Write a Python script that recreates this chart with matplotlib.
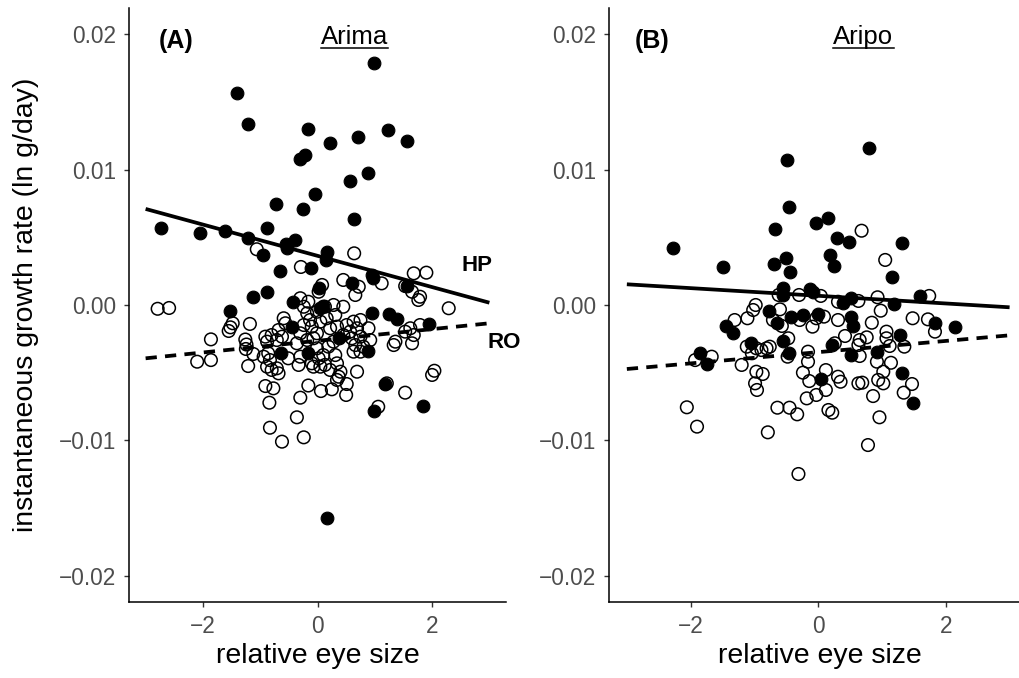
#Growth rate vs relative eye size, Arima and Aripo drainages
import numpy as np
import matplotlib
matplotlib.use("Agg")
import matplotlib.pyplot as plt
from matplotlib.ticker import FuncFormatter

plt.rcParams['font.family'] = ['Liberation Sans', 'DejaVu Sans']

#Arima, HP fish (filled)
arima_hp_x = [0.99, -1.41, -1.21, -0.16, 1.23, 0.71, 0.22, 1.57, -0.21, -0.30, 0.88, 0.56, -0.05, -0.72,
              -0.25, 0.63, -2.74, -2.05, -1.61, -0.88, -1.21, -0.55, -0.39, -0.53, -0.95, 0.17, 0.15, -0.65,
              -0.11, 0.95, 0.96, 0.61, 1.56, 0.02, -1.13, -0.88, -0.42, 0.05, 0.09, -1.52, 0.95, 1.24, 1.39,
              1.95, -0.45, 0.37, -0.64, -0.17, 0.89, 1.17, 0.98, 1.85, 0.17]
arima_hp_y = [0.01786, 0.01569, 0.01338, 0.01299, 0.01293, 0.01244, 0.01195, 0.01210, 0.01109, 0.01077,
              0.00973, 0.00916, 0.00820, 0.00746, 0.00710, 0.00636, 0.00569, 0.00530, 0.00549, 0.00567,
              0.00493, 0.00451, 0.00480, 0.00419, 0.00370, 0.00394, 0.00333, 0.00254, 0.00276, 0.00222,
              0.00197, 0.00165, 0.00140, 0.00123, 0.00061, 0.00098, 0.00024, -0.00024, -0.00007, -0.00042,
              -0.00061, -0.00069, -0.00103, -0.00140, -0.00160, -0.00246, -0.00353, -0.00353, -0.00340,
              -0.00584, -0.00781, -0.00746, -0.01572]

#Arima, RO fish (open)
arima_ro_x = [-2.79, -2.59, -1.06, -0.29, 0.64, -1.86, -2.10, -1.86, -1.48, -1.52, -1.55, -1.18, -1.26, -1.24,
              -1.25, -1.12, -1.21, -0.91, -0.88, -0.80, -0.68, -0.59, -0.56, -0.71, -0.62, -0.30, -0.16, -0.24,
              -0.18, -0.13, -0.10, -0.24, -0.30, -0.18, -0.07, -0.01, -0.36, -0.88, -0.80, -0.71, -0.68, -0.83,
              -0.94, -0.86, -0.51, -0.33, -0.30, -0.10, 0.02, -0.91, -0.77, -0.84, -0.16, -0.30, -0.36, -0.83,
              -0.62, -0.24, 0.06, 0.25, 0.50, 0.51, 0.34, 1.53, 1.06, 1.21, 2.00, 2.04, 0.45, 0.08, 0.02, 0.72,
              0.66, 1.12, 1.68, 1.90, 1.53, 1.65, 1.79, 1.76, 2.29, -0.01, 0.13, 0.28, 0.45, 0.31, 0.16, 0.05,
              0.22, 0.34, 0.51, 0.63, 0.75, 0.69, 0.57, 0.45, 0.60, 0.75, 0.89, 0.92, 0.80, 0.66, 0.63, 0.75,
              0.28, 0.19, 0.10, 0.31, -0.01, -0.07, 0.05, 0.13, 0.22, 0.34, 0.40, 0.37, 0.69, 1.36, 1.33, 1.53,
              1.62, 1.79, 1.68, 1.65]
arima_ro_y = [-0.00028, -0.00022, 0.00412, 0.00281, 0.00382, -0.00254, -0.00419, -0.00407, -0.00135, -0.00165,
              -0.00192, -0.00140, -0.00255, -0.00292, -0.00325, -0.00362, -0.00451, -0.00234, -0.00271, -0.00222,
              -0.00185, -0.00098, -0.00135, -0.00259, -0.00234, 0.00050, 0.00024, -0.00013, -0.00061, -0.00111,
              -0.00160, -0.00148, -0.00209, -0.00259, -0.00246, -0.00209, -0.00283, -0.00456, -0.00480, -0.00468,
              -0.00505, -0.00407, -0.00382, -0.00357, -0.00394, -0.00443, -0.00382, -0.00431, -0.00394, -0.00599,
              -0.00616, -0.00722, -0.00595, -0.00685, -0.00830, -0.00907, -0.01010, -0.00978, -0.00636, -0.00623,
              -0.00665, -0.00584, -0.00554, -0.00648, -0.00752, -0.00579, -0.00517, -0.00486, 0.00185, 0.00148,
              0.00098, 0.00135, 0.00074, 0.00160, 0.00234, 0.00239, 0.00140, 0.00098, 0.00061, 0.00037,
              -0.00024, -0.00050, -0.00013, 0.00000, -0.00013, -0.00074, -0.00098, -0.00123, -0.00172, -0.00160,
              -0.00148, -0.00123, -0.00111, -0.00172, -0.00197, -0.00222, -0.00246, -0.00234, -0.00172, -0.00259,
              -0.00308, -0.00296, -0.00345, -0.00345, -0.00271, -0.00308, -0.00370, -0.00370, -0.00320, -0.00456,
              -0.00456, -0.00443, -0.00480, -0.00431, -0.00493, -0.00530, -0.00493, -0.00271, -0.00296, -0.00197,
              -0.00172, -0.00148, -0.00222, -0.00283]

#Aripo, HP fish (filled)
aripo_hp_x = [0.80, -0.49, -0.46, -0.03, 0.16, -0.67, -2.28, -1.50, 0.30, 0.48, 1.31, -0.69, -0.51, -0.45,
              0.18, 0.24, 1.16, -0.55, -0.56, -0.13, -0.08, 0.52, 0.39, 1.19, 1.60, 1.83, 2.14, -0.77, -0.64,
              -0.43, -0.24, 0.00, 0.51, 0.54, -1.45, -1.34, -1.05, -0.55, -0.46, 0.22, 0.51, 0.92, 1.28, -1.85,
              -1.75, 0.05, 1.31, 1.49]
aripo_hp_y = [0.01163, 0.01072, 0.00722, 0.00604, 0.00645, 0.00560, 0.00424, 0.00279, 0.00493, 0.00468,
              0.00456, 0.00303, 0.00350, 0.00242, 0.00370, 0.00290, 0.00209, 0.00123, 0.00074, 0.00116,
              0.00098, 0.00050, 0.00013, 0.00005, 0.00067, -0.00131, -0.00165, -0.00042, -0.00135, -0.00086,
              -0.00074, -0.00069, -0.00091, -0.00155, -0.00155, -0.00205, -0.00279, -0.00264, -0.00357,
              -0.00296, -0.00370, -0.00350, -0.00222, -0.00357, -0.00436, -0.00549, -0.00505, -0.00722]

#Aripo, RO fish (open)
aripo_ro_x = [0.68, 1.05, -0.62, -0.30, 0.04, 0.31, 0.63, 0.93, 0.98, 1.74, 1.48, 1.72, 1.83, -0.98, -1.02,
              -1.11, -1.31, -0.60, -0.71, -0.57, -0.09, 0.09, 0.31, 0.42, 0.84, 1.07, 1.07, 1.12, 1.35, 0.65,
              0.63, 0.76, 0.26, 0.65, 0.92, 1.14, 1.02, 0.94, 1.02, 0.86, 1.34, 1.47, 0.96, -1.12, -1.04, -0.89,
              -0.81, -0.76, -0.97, -1.20, -1.93, -1.67, -0.97, -0.87, -0.99, -0.96, -0.48, -0.16, -0.16, -0.24,
              -0.14, 0.12, 0.31, 0.35, -0.18, -0.03, 0.12, 0.63, 0.69, -0.64, -0.45, -0.33, 0.16, 0.22, -2.06,
              -1.90, -0.79, 0.78, -0.31, -0.47, -0.29, -0.03]
aripo_ro_y = [0.00549, 0.00333, 0.00074, 0.00074, 0.00067, 0.00024, 0.00030, 0.00057, -0.00042, 0.00067,
              -0.00098, -0.00106, -0.00197, 0.00000, -0.00037, -0.00098, -0.00111, -0.00032, -0.00111, -0.00155,
              -0.00160, -0.00086, -0.00111, -0.00229, -0.00131, -0.00197, -0.00246, -0.00303, -0.00308, -0.00259,
              -0.00296, -0.00239, -0.00283, -0.00377, -0.00419, -0.00427, -0.00493, -0.00554, -0.00579, -0.00673,
              -0.00648, -0.00584, -0.00830, -0.00308, -0.00357, -0.00333, -0.00320, -0.00308, -0.00320, -0.00443,
              -0.00407, -0.00382, -0.00493, -0.00510, -0.00579, -0.00628, -0.00382, -0.00345, -0.00419, -0.00500,
              -0.00562, -0.00481, -0.00530, -0.00567, -0.00690, -0.00665, -0.00628, -0.00579, -0.00574, -0.00759,
              -0.00759, -0.00808, -0.00776, -0.00796, -0.00756, -0.00899, -0.00941, -0.01035, -0.01249, -0.00246,
              -0.00111, -0.00098]

#Fitted lines (values at x=-3 and x=3)
fit_x = [-3, 3]
arima_hp_fit = [0.00710, 0.00017]
arima_ro_fit = [-0.00394, -0.00135]
aripo_hp_fit = [0.00153, -0.00017]
aripo_ro_fit = [-0.00473, -0.00224]


def yfmt(v, pos):
    s = "%.2f" % v
    if s == "-0.00":
        s = "0.00"
    return s.replace("-", "\u2212")


def xfmt(v, pos):
    s = "%.0f" % v
    if s == "-0":
        s = "0"
    return s.replace("-", "\u2212")


def panel(ax, hp_x, hp_y, ro_x, ro_y, hp_fit, ro_fit, tag, tag_x, site, site_x):
    ax.scatter(ro_x, ro_y, s=82, facecolors='none', edgecolors='black', linewidths=1.1, zorder=2)
    ax.scatter(hp_x, hp_y, s=84, color='black', linewidths=0.8, zorder=3)
    ax.plot(fit_x, hp_fit, color='black', lw=2.7, solid_capstyle='butt', zorder=4)
    ax.plot(fit_x, ro_fit, color='black', lw=2.7, ls=(0, (3.0, 2.2)), dash_capstyle='butt', zorder=4)
    ax.set_ylim(-0.02195, 0.02195)
    ax.set_xticks([-2, 0, 2])
    ax.set_yticks([-0.02, -0.01, 0.0, 0.01, 0.02])
    ax.xaxis.set_major_formatter(FuncFormatter(xfmt))
    ax.yaxis.set_major_formatter(FuncFormatter(yfmt))
    ax.tick_params(length=3.6, width=1.0, color='#333333', labelsize=16.3, labelcolor='#4D4D4D', pad=5.5)
    for side in ['top', 'right']:
        ax.spines[side].set_visible(False)
    for side in ['left', 'bottom']:
        ax.spines[side].set_linewidth(1.1)
        ax.spines[side].set_color('black')
    ax.set_xlabel('relative eye size', fontsize=20.5, labelpad=4)
    ax.text(tag_x, 0.0190, tag, fontsize=18, fontweight='bold', ha='left', va='baseline')
    t = ax.text(site_x, 0.01929, site, fontsize=18.5, ha='center', va='baseline')
    return t


fig = plt.figure(figsize=(10.2, 6.78), dpi=100)
axA = fig.add_axes([129/1020, 76/678, 377/1020, 594/678])
axB = fig.add_axes([609/1020, 76/678, 421/1020, 594/678])

tA = panel(axA, arima_hp_x, arima_hp_y, arima_ro_x, arima_ro_y, arima_hp_fit, arima_ro_fit,
           '(A)', -2.77, 'Arima', 0.64)
tB = panel(axB, aripo_hp_x, aripo_hp_y, aripo_ro_x, aripo_ro_y, aripo_hp_fit, aripo_ro_fit,
           '(B)', -2.87, 'Aripo', 0.71)
axA.set_xlim(-3.29, 3.29)
axB.set_xlim(-3.28, 3.32)

axA.text(2.78, 0.0029, 'HP', fontsize=16, fontweight='bold', ha='center', va='center')
axA.text(3.26, -0.00277, 'RO', fontsize=16, fontweight='bold', ha='center', va='center', clip_on=False)

fig.text(26/1020, 1 - 305/678, 'instantaneous growth rate (ln g/day)', rotation=90,
         fontsize=20.5, ha='center', va='center')

#underline the site names
fig.canvas.draw()
for ax, t in [(axA, tA), (axB, tB)]:
    bb = t.get_window_extent().transformed(ax.transAxes.inverted())
    ax.plot([bb.x0, bb.x1], [bb.y0 + 0.002, bb.y0 + 0.002], color='black', lw=1.1,
            transform=ax.transAxes, clip_on=False)

fig.savefig('out.png', dpi=100)
